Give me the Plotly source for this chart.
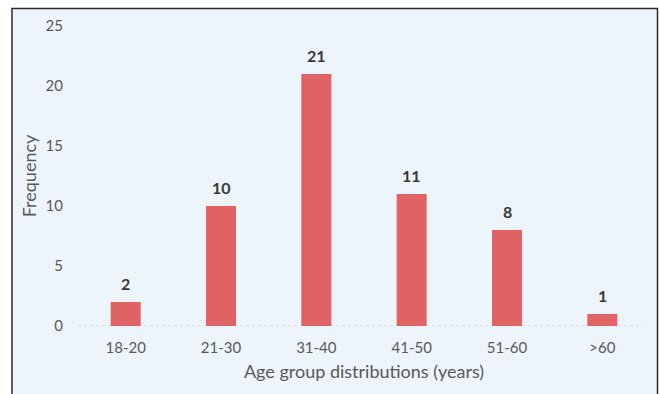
import plotly.graph_objects as go

categories = ["18-20", "21-30", "31-40", "41-50", "51-60", ">60"]
frequency = [2, 10, 21, 11, 8, 1]
y_ticks = [0, 5, 10, 15, 20, 25]

W, H = 659, 394
ML, MR, MT, MB = 78, 9, 26, 68
PW, PH = W - ML - MR, H - MT - MB
FONT = "Lato, Open Sans, sans-serif"
BAR = "#DF6365"
TXT = "#595959"


def px_x(p):
    return (p - ML) / PW


def px_y(p):
    return (H - MB - p) / PH


fig = go.Figure()
fig.add_trace(go.Bar(
    x=categories, y=frequency,
    marker=dict(color=BAR, line=dict(width=0)),
    hoverinfo="skip",
))

for c, v in zip(categories, frequency):
    fig.add_annotation(x=c, y=v, text=f"<b>{v}</b>", showarrow=False,
                       yanchor="bottom", yshift=7,
                       font=dict(family=FONT, size=16, color="#383838"))

# frame of the chart area
fig.add_shape(type="rect", xref="paper", yref="paper",
              x0=px_x(12), x1=px_x(657.5), y0=px_y(410), y1=px_y(8.5),
              fillcolor="#EEF5FA", line=dict(color="#2b2b2b", width=1.5),
              layer="below")
# dotted baseline
fig.add_shape(type="line", xref="x domain", yref="y", x0=0, x1=0.99, y0=0, y1=0,
              line=dict(color="#c8c8c8", width=1, dash="dot"), layer="below")

fig.update_layout(
    width=W, height=H,
    margin=dict(l=ML, r=MR, t=MT, b=MB),
    paper_bgcolor="white",
    plot_bgcolor="rgba(0,0,0,0)",
    bargap=0.685,
    showlegend=False,
    font=dict(family=FONT, size=15, color=TXT),
)
fig.update_xaxes(
    showgrid=False, zeroline=False, showline=False,
    ticks="", ticklabelstandoff=11,
    tickfont=dict(family=FONT, size=15, color=TXT),
    title=dict(text="Age group distributions (years)", standoff=10,
               font=dict(family=FONT, size=18, color=TXT)),
)
fig.update_yaxes(
    range=[0, 25], tickvals=y_ticks, showgrid=False, zeroline=False, showline=False,
    ticks="", ticklabelstandoff=14,
    tickfont=dict(family=FONT, size=15, color=TXT),
    title=dict(text="Frequency", standoff=4,
               font=dict(family=FONT, size=18, color=TXT)),
)

fig.write_html("out.html")
